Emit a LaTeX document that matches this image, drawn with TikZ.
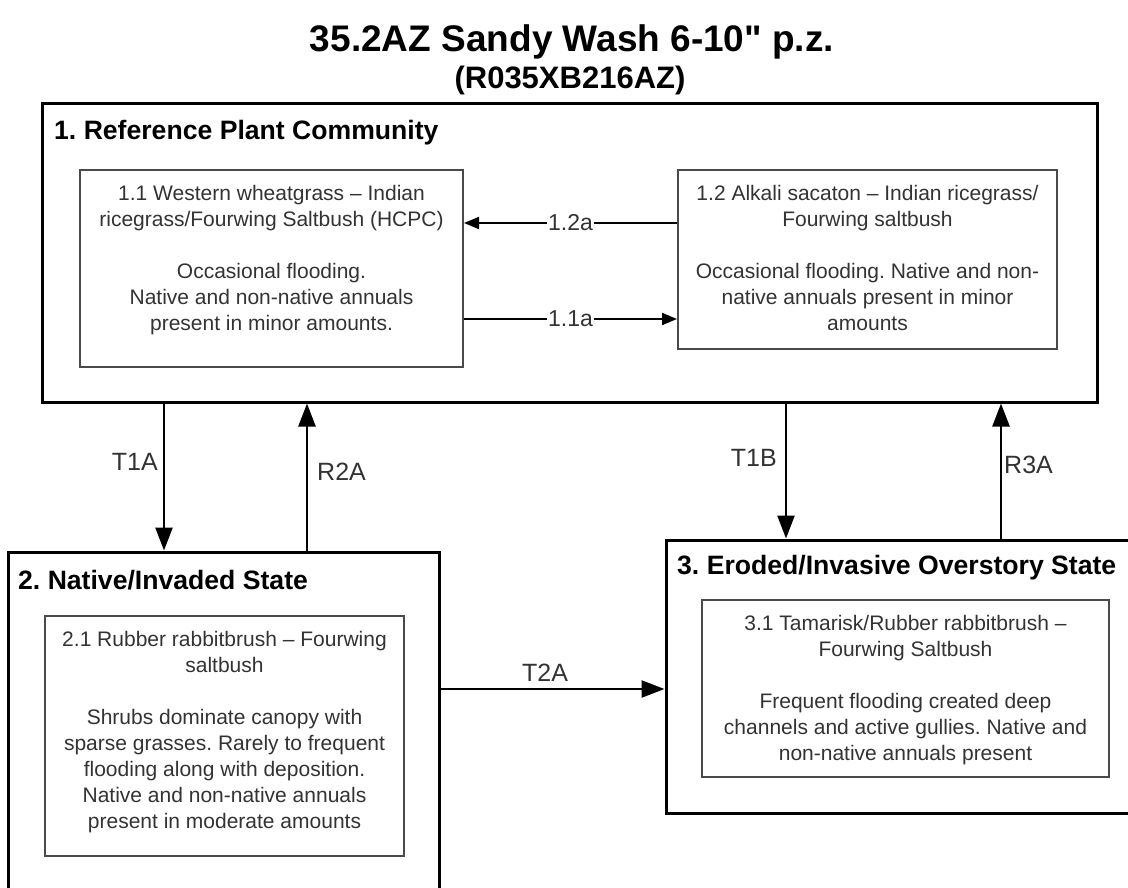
\documentclass[tikz,border=0pt]{standalone}
\usepackage{fontspec}
\setmainfont{Liberation Sans}
\newfontfamily\titlefont{Liberation Sans}[Ligatures=TeXOff]
\usetikzlibrary{arrows.meta,calc}
\definecolor{txtgray}{HTML}{333333}
\definecolor{boxgray}{HTML}{4A4A4A}
\tikzset{
  statebox/.style={draw=black, line width=3pt, inner sep=0pt},
  phasebox/.style={draw=boxgray, line width=2pt, inner sep=0pt},
  phasetext/.style={text=txtgray, align=center, inner sep=0pt, anchor=north,
    font=\fontsize{21}{26}\selectfont},
  heading/.style={font=\fontsize{26.6}{30}\selectfont\bfseries, anchor=base west, inner sep=0pt},
  bigarr/.style={line width=2.5pt, -{Triangle[length=23pt,width=17pt]}},
  smallarr/.style={line width=2pt, -{Triangle[length=15pt,width=12pt]}},
  translabel/.style={font=\fontsize{25}{28}\selectfont, text=txtgray, inner sep=0pt},
  pathlabel/.style={font=\fontsize{23}{26}\selectfont, text=txtgray, fill=white, inner sep=1pt},
}
\begin{document}
\frenchspacing
\begin{tikzpicture}[x=1pt,y=-1pt]
\useasboundingbox (0,0) rectangle (1128,888);
\fill[white] (0,0) rectangle (1128,888);

% title
\node[font=\titlefont\fontsize{37}{40}\selectfont\bfseries, anchor=base, inner sep=0pt] (title) at (572,52) {35.2AZ Sandy Wash 6-10" p.z.};
\node[font=\fontsize{31}{34}\selectfont\bfseries, anchor=base, inner sep=0pt] (subtitle) at (570,89) {(R035XB216AZ)};

% state boxes
\node[statebox, minimum width=1055pt, minimum height=298pt] (s1) at (569.5,253) {};
\node[statebox, minimum width=431pt, minimum height=340pt] (s2) at (223.5,722) {};
\node[statebox, minimum width=469pt, minimum height=273pt] (s3) at (900.5,676.5) {};

\node[heading] (h1) at (54,140) {1. Reference Plant Community};
\node[heading] (h2) at (18,589) {2. Native/Invaded State};
\node[heading] (h3) at (677,574) {3. Eroded/Invasive Overstory State};

% phase boxes
\node[phasebox, minimum width=383pt, minimum height=197pt] (b11) at (271.5,268.5) {};
\node[phasebox, minimum width=379pt, minimum height=179pt] (b12) at (867.5,259.5) {};
\node[phasebox, minimum width=359pt, minimum height=240pt] (b21) at (224.5,736) {};
\node[phasebox, minimum width=407pt, minimum height=177pt] (b31) at (905.5,688.5) {};

\node[phasetext] (t11) at (271.5,185) {1.1 Western wheatgrass -- Indian\\ricegrass/Fourwing Saltbush (HCPC)\\[26pt]Occasional flooding.\\Native and non-native annuals\\present in minor amounts.};
\node[phasetext] (t12) at (867.5,185) {1.2 Alkali sacaton -- Indian ricegrass/\\Fourwing saltbush\\[26pt]Occasional flooding. Native and non-\\native annuals present in minor\\amounts};
\node[phasetext] (t21) at (224.5,631) {2.1 Rubber rabbitbrush -- Fourwing\\saltbush\\[26pt]Shrubs dominate canopy with\\sparse grasses. Rarely to frequent\\flooding along with deposition.\\Native and non-native annuals\\present in moderate amounts};
\node[phasetext] (t31) at (905.5,615) {3.1 Tamarisk/Rubber rabbitbrush --\\Fourwing Saltbush\\[26pt]Frequent flooding created deep\\channels and active gullies. Native and\\non-native annuals present};

% helper coordinates
\coordinate (y12a) at (0,223);
\coordinate (y11a) at (0,319);
\coordinate (xT1A) at (164,0);
\coordinate (xR2A) at (307,0);
\coordinate (xT1B) at (786,0);
\coordinate (xR3A) at (1001,0);
\coordinate (yT2A) at (0,689);

% pathways within state 1
\draw[smallarr] (b12.west |- y12a) -- node[pathlabel] (l12a) {1.2a} (b11.east |- y12a);
\draw[smallarr] (b11.east |- y11a) -- node[pathlabel] (l11a) {1.1a} (b12.west |- y11a);

% transitions
\draw[bigarr] (s1.south -| xT1A) -- (s2.north -| xT1A);
\draw[bigarr] (s2.north -| xR2A) -- (s1.south -| xR2A);
\draw[bigarr] (s1.south -| xT1B) -- (s3.north -| xT1B);
\draw[bigarr] (s3.north -| xR3A) -- (s1.south -| xR3A);
\draw[bigarr] (s2.east |- yT2A) -- (s3.west |- yT2A);

\node[translabel, anchor=east] (lT1A) at (158,462) {T1A};
\node[translabel, anchor=west] (lR2A) at (317,472) {R2A};
\node[translabel, anchor=east] (lT1B) at (777,458) {T1B};
\node[translabel, anchor=west] (lR3A) at (1004,465) {R3A};
\node[translabel] (lT2A) at (545,673) {T2A};
\end{tikzpicture}
\end{document}
